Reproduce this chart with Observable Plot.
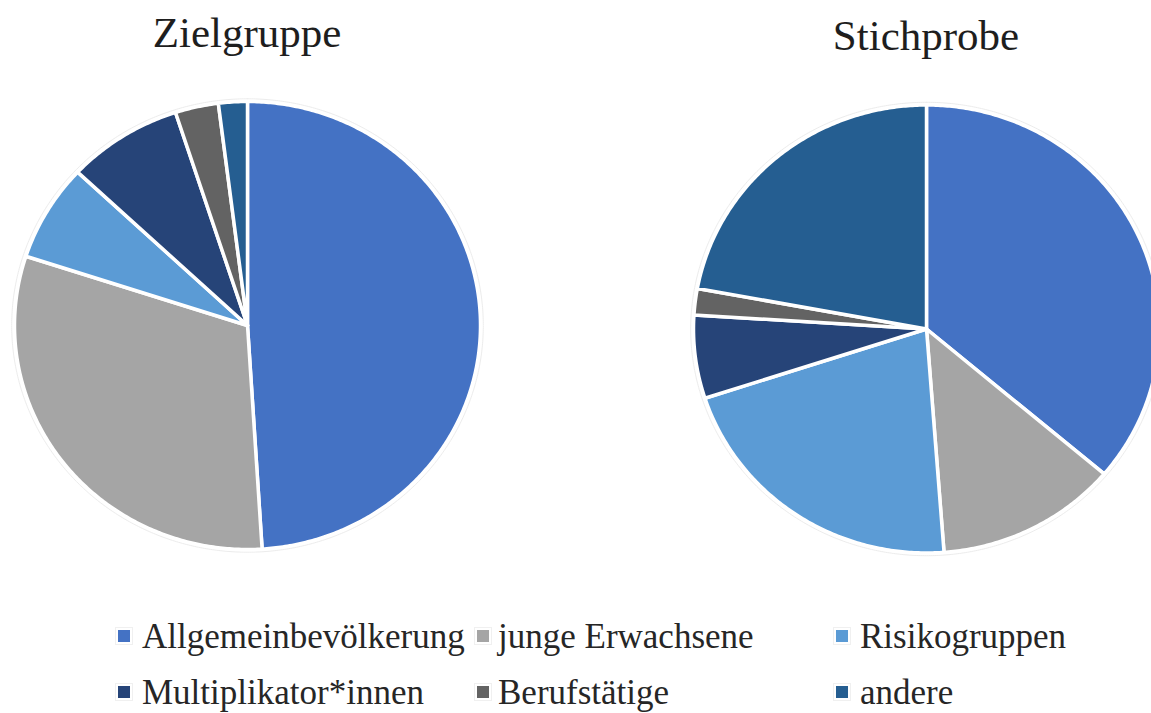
<!DOCTYPE html>
<html lang="de">
<head>
<meta charset="utf-8">
<script src="https://cdn.jsdelivr.net/npm/d3@7"></script>
<script src="https://cdn.jsdelivr.net/npm/@observablehq/plot@0.6"></script>
<style>
  html, body { margin: 0; padding: 0; background: #fff; }
  #chart { position: relative; width: 1151px; height: 713px; overflow: hidden; color: #1e1e1e; }
  #chart svg { position: absolute; left: 0; top: 0; }
  .title, .item { font-family: "Liberation Serif", "Times New Roman", serif; }
  .title { position: absolute; font-size: 43px; line-height: 43px; white-space: nowrap; transform: translateX(-50%); }
  .item { position: absolute; font-size: 35px; line-height: 35px; white-space: nowrap; color: #262626; }
  .swatch { position: absolute; width: 12px; height: 12px; box-shadow: 0 0 0 2px #fff, 0 0 0 3px #f0f0f0; }
</style>
</head>
<body>
<div id="chart"></div>
<script>
// Kategorien und Anteile (in %) der beiden Kreisdiagramme
const categories = ["Allgemeinbevölkerung", "junge Erwachsene", "Risikogruppen", "Multiplikator*innen", "Berufstätige", "andere"];
const zielgruppe = [49, 31, 7, 8, 3, 2];
const stichprobe = [36.2, 12.6, 21.2, 6.0, 1.9, 22.1];
const colors = ["#4472C4", "#A5A5A5", "#5B9BD5", "#264478", "#636363", "#255E91"];
const pieTitles = ["Zielgruppe", "Stichprobe"];

// Layout: Pixel pro Radius-Einheit und Mittelpunkte der Kreise
const W = 1151, H = 713;
const rx = 233, ry = 224;
const centers = [{px: 247, py: 325}, {px: 926, py: 328.5}];
const toUnits = c => ({cx: (c.px - 247) / rx, cy: -(c.py - 325) / ry});

const pie = d3.pie().sort(null).value(d => d);

// Jede Scheibe als geschlossenes Polygon: Mittelpunkt -> Bogen -> Mittelpunkt
function slices(values, pieIndex) {
  const {cx, cy} = toUnits(centers[pieIndex]);
  const rows = [];
  pie(values).forEach((a, i) => {
    const id = pieIndex + "-" + i;
    rows.push({id, category: categories[i], x: cx, y: cy});
    const n = Math.max(2, Math.ceil((a.endAngle - a.startAngle) / 0.01));
    for (let k = 0; k <= n; ++k) {
      const t = a.startAngle + (a.endAngle - a.startAngle) * k / n;
      rows.push({id, category: categories[i], x: cx + Math.sin(t), y: cy + Math.cos(t)});
    }
    rows.push({id, category: categories[i], x: cx, y: cy});
  });
  return rows;
}

// feiner grauer Rand um jeden Kreis
function rings() {
  const rows = [];
  centers.forEach((c, j) => {
    const {cx, cy} = toUnits(c);
    for (let k = 0; k <= 720; ++k) {
      const t = 2 * Math.PI * k / 720;
      rows.push({ring: j, x: cx + 1.012 * Math.sin(t), y: cy + 1.012 * Math.cos(t)});
    }
  });
  return rows;
}

const data = [...slices(zielgruppe, 0), ...slices(stichprobe, 1)];

const plot = Plot.plot({
  width: W,
  height: H,
  margin: 0,
  x: {axis: null, domain: [-247 / rx, (W - 247) / rx]},
  y: {axis: null, domain: [-(H - 325) / ry, 325 / ry]},
  color: {domain: categories, range: colors},
  marks: [
    Plot.line(rings(), {x: "x", y: "y", z: "ring", stroke: "#ececec", strokeWidth: 1}),
    Plot.line(data, {
      x: "x", y: "y", z: "id",
      fill: "category",
      stroke: "#fff",
      strokeWidth: 3.5,
      strokeLinejoin: "round"
    })
  ]
});

const chart = document.getElementById("chart");
chart.appendChild(plot);

// Überschriften über den Kreisen
const titleBaselines = [47, 50];
pieTitles.forEach((t, j) => {
  const el = document.createElement("div");
  el.className = "title";
  el.textContent = t;
  el.style.left = centers[j].px + "px";
  el.style.top = (titleBaselines[j] - 0.8375 * 43) + "px";
  chart.appendChild(el);
});

// Legende: zwei Zeilen zu je drei Einträgen
const swatchX = [118, 477, 836];
const textX = [142, 498, 860];
const rowBaselines = [648, 704];
categories.forEach((cat, i) => {
  const col = i % 3, row = Math.floor(i / 3);
  const sw = document.createElement("div");
  sw.className = "swatch";
  sw.style.background = colors[i];
  sw.style.left = swatchX[col] + "px";
  sw.style.top = (rowBaselines[row] - 18) + "px";
  chart.appendChild(sw);
  const tx = document.createElement("div");
  tx.className = "item";
  tx.textContent = cat;
  tx.style.left = textX[col] + "px";
  tx.style.top = (rowBaselines[row] - 0.8375 * 35) + "px";
  chart.appendChild(tx);
});
</script>
</body>
</html>
